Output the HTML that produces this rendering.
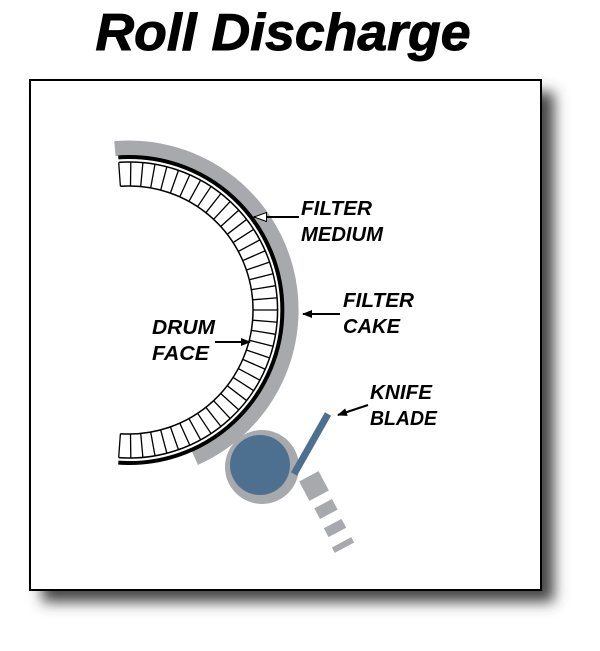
<!DOCTYPE html>
<html><head><meta charset="utf-8"><style>
body{margin:0;background:#fff;width:600px;height:651px;overflow:hidden}
svg{display:block}
text{font-family:"Liberation Sans",sans-serif;font-weight:bold;font-style:italic}
</style></head><body>
<svg width="600" height="651" viewBox="0 0 600 651">
<defs>
<filter id="sh" x="-20%" y="-20%" width="140%" height="140%"><feGaussianBlur stdDeviation="7"/></filter>
<marker id="ah" markerWidth="10" markerHeight="8" refX="9" refY="4" orient="auto" markerUnits="userSpaceOnUse"><path d="M0,0 L10,4 L0,8 z" fill="#000"/></marker>
<marker id="aw" markerWidth="14" markerHeight="10" refX="13" refY="5" orient="auto" markerUnits="userSpaceOnUse"><path d="M0.5,0.5 L13,5 L0.5,9.5 z" fill="#fff" stroke="#000" stroke-width="1"/></marker>
</defs>
<text x="283" y="50" font-size="52" text-anchor="middle" textLength="375" lengthAdjust="spacingAndGlyphs" stroke="#000" stroke-width="1">Roll Discharge</text>
<rect x="42" y="92" width="512" height="510" fill="#444" filter="url(#sh)"/>
<rect x="30" y="80" width="511" height="510" fill="#fff" stroke="#000" stroke-width="2"/>
<g id="drum"></g>
<circle cx="262" cy="467" r="37" fill="#a7a9ac"/>
<circle cx="260" cy="465" r="30" fill="#4e7090"/>
<line x1="328" y1="414" x2="294" y2="474" stroke="#4e7090" stroke-width="7"/>
<g fill="#a7a9ac">
<rect x="-11" y="-11" width="22" height="22" transform="translate(314,486) rotate(-28)"/>
<rect x="-10" y="-6" width="20" height="12" transform="translate(326,509) rotate(-28)"/>
<rect x="-10" y="-5" width="20" height="10" transform="translate(335,528) rotate(-28)"/>
<rect x="-11" y="-3" width="22" height="6" transform="translate(343,545) rotate(-28)"/>
</g>
<line x1="299" y1="217" x2="254" y2="217" stroke="#000" stroke-width="2" marker-end="url(#aw)"/>
<line x1="340" y1="314" x2="303" y2="314" stroke="#000" stroke-width="2" marker-end="url(#ah)"/>
<line x1="215" y1="342" x2="250" y2="342" stroke="#000" stroke-width="2" marker-end="url(#ah)"/>
<line x1="368" y1="405" x2="338" y2="415" stroke="#000" stroke-width="2" marker-end="url(#ah)"/>
<g font-size="20">
<text x="301" y="215" textLength="71" lengthAdjust="spacingAndGlyphs">FILTER</text><text x="301" y="241" textLength="82" lengthAdjust="spacingAndGlyphs">MEDIUM</text>
<text x="343" y="307" textLength="71" lengthAdjust="spacingAndGlyphs">FILTER</text><text x="343" y="333" textLength="57" lengthAdjust="spacingAndGlyphs">CAKE</text>
<text x="152" y="334" textLength="63" lengthAdjust="spacingAndGlyphs">DRUM</text><text x="152" y="360" textLength="57" lengthAdjust="spacingAndGlyphs">FACE</text>
<text x="370" y="399" textLength="62" lengthAdjust="spacingAndGlyphs">KNIFE</text><text x="370" y="425" textLength="67" lengthAdjust="spacingAndGlyphs">BLADE</text>
</g>
</svg>
<script>
(function(){
var g=document.getElementById('drum'),cx=129,cy=310,s='';
function P(r,a){a=a*Math.PI/180;return [(cx+r*Math.cos(a)).toFixed(1),(cy+r*Math.sin(a)).toFixed(1)];}
function arc(r,a1,a2){var p=P(r,a1),q=P(r,a2);var lg=(a2-a1)>180?1:0;return 'M'+p[0]+','+p[1]+' A'+r+','+r+' 0 '+lg+' 1 '+q[0]+','+q[1];}
s+='<path d="'+arc(162,-95,66)+'" fill="none" stroke="#a7a9ac" stroke-width="15"/>';
s+='<path d="'+arc(153,-94,94)+'" fill="none" stroke="#000" stroke-width="4"/>';
s+='<path d="'+arc(148,-94,94)+'" fill="none" stroke="#000" stroke-width="1.5"/>';
s+='<path d="'+arc(124,-94,94)+'" fill="none" stroke="#000" stroke-width="1.5"/>';
for(var a=-94;a<=94.1;a+=4.7){var p=P(124,a),q=P(148,a);s+='<line x1="'+p[0]+'" y1="'+p[1]+'" x2="'+q[0]+'" y2="'+q[1]+'" stroke="#000" stroke-width="1.3"/>';}
g.innerHTML=s;
})();
</script>
</body></html>
